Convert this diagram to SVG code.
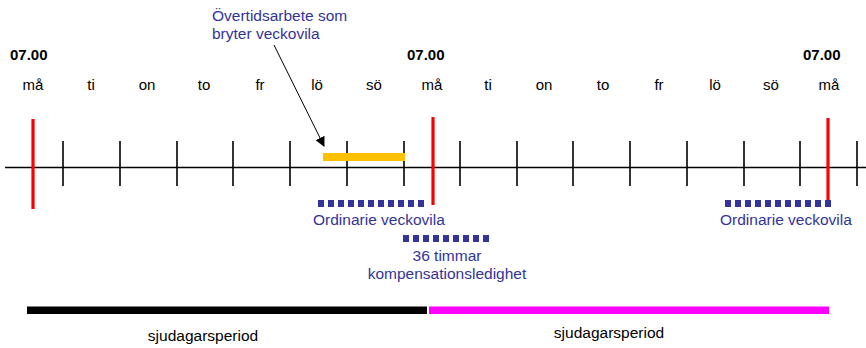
<svg xmlns="http://www.w3.org/2000/svg" width="866" height="348" viewBox="0 0 866 348">
<style>
  text { font-family: "Liberation Sans", Arial, sans-serif; }
  .day { font-size: 15px; fill: #000; text-anchor: middle; }
  .time { font-size: 15px; font-weight: bold; fill: #000; }
  .blue { font-size: 15.5px; fill: #333399; }
  .per { font-size: 15.5px; fill: #000; text-anchor: middle; }
  .tick { stroke: #000; stroke-width: 1.6; }
  .red { stroke: #ff0000; stroke-width: 3.2; }
  .dots { stroke: #333399; stroke-width: 7; stroke-dasharray: 6 4; fill: none; }
</style>
<defs>
  <marker id="ah" markerWidth="10" markerHeight="10" refX="9" refY="5" orient="auto" markerUnits="userSpaceOnUse">
    <path d="M0,0 L10,5 L0,10 z" fill="#000"/>
  </marker>
</defs>
<rect width="866" height="348" fill="#fff"/>

<g id="times">
  <text class="time" x="10" y="60">07.00</text>
  <text class="time" x="407" y="60">07.00</text>
  <text class="time" x="803" y="60">07.00</text>
</g>

<g id="days">
  <text class="day" x="33" y="90">må</text>
  <text class="day" x="91" y="90">ti</text>
  <text class="day" x="147" y="90">on</text>
  <text class="day" x="204" y="90">to</text>
  <text class="day" x="260" y="90">fr</text>
  <text class="day" x="317" y="90">lö</text>
  <text class="day" x="374" y="90">sö</text>
  <text class="day" x="432" y="90">må</text>
  <text class="day" x="488" y="90">ti</text>
  <text class="day" x="544" y="90">on</text>
  <text class="day" x="603" y="90">to</text>
  <text class="day" x="659" y="90">fr</text>
  <text class="day" x="715" y="90">lö</text>
  <text class="day" x="771" y="90">sö</text>
  <text class="day" x="829" y="90">må</text>
</g>

<g id="timeline">
  <line x1="5" y1="167.5" x2="866" y2="167.5" stroke="#000" stroke-width="1.6"/>
  <line class="tick" x1="63" y1="141" x2="63" y2="186"/>
  <line class="tick" x1="120" y1="141" x2="120" y2="186"/>
  <line class="tick" x1="177" y1="141" x2="177" y2="186"/>
  <line class="tick" x1="233" y1="141" x2="233" y2="186" stroke-width="2"/>
  <line class="tick" x1="290" y1="141" x2="290" y2="186" stroke-width="2"/>
  <line class="tick" x1="347" y1="141" x2="347" y2="186"/>
  <line class="tick" x1="404" y1="141" x2="404" y2="186"/>
  <line class="tick" x1="460" y1="141" x2="460" y2="186"/>
  <line class="tick" x1="517" y1="141" x2="517" y2="186"/>
  <line class="tick" x1="573" y1="141" x2="573" y2="186"/>
  <line class="tick" x1="630" y1="141" x2="630" y2="186"/>
  <line class="tick" x1="687" y1="141" x2="687" y2="186"/>
  <line class="tick" x1="744" y1="141" x2="744" y2="186"/>
  <line class="tick" x1="800" y1="141" x2="800" y2="186" stroke-width="2"/>
  <line class="tick" x1="857" y1="141" x2="857" y2="186"/>
  <line class="red" x1="33" y1="119" x2="33" y2="209"/>
  <line class="red" x1="433" y1="117" x2="433" y2="205"/>
  <line class="red" x1="828" y1="118" x2="828" y2="207"/>
</g>

<g id="overtime">
  <rect x="323" y="153" width="82" height="8" fill="#ffc000"/>
  <text class="blue" x="212" y="21">Övertidsarbete som</text>
  <text class="blue" x="212" y="38.5">bryter veckovila</text>
</g>

<g id="connectors">
  <line x1="274" y1="45" x2="324" y2="146" stroke="#000" stroke-width="1" marker-end="url(#ah)"/>
</g>

<g id="veckovila1">
  <line class="dots" x1="318" y1="203.5" x2="424" y2="203.5"/>
  <text class="blue" x="313" y="225">Ordinarie veckovila</text>
</g>

<g id="veckovila2">
  <line class="dots" x1="725" y1="203.5" x2="831" y2="203.5"/>
  <text class="blue" x="720" y="225">Ordinarie veckovila</text>
</g>

<g id="kompensation">
  <line class="dots" x1="403" y1="238.5" x2="492" y2="238.5" stroke-dasharray="5 3.4" stroke-width="6.5"/>
  <text class="blue" x="447" y="261" text-anchor="middle">36 timmar</text>
  <text class="blue" x="447" y="279" text-anchor="middle">kompensationsledighet</text>
</g>

<g id="period1">
  <rect x="27" y="306.5" width="400" height="7.5" fill="#000"/>
  <text class="per" x="203" y="341">sjudagarsperiod</text>
</g>

<g id="period2">
  <rect x="429" y="306.5" width="400" height="7.5" fill="#ff00ff"/>
  <text class="per" x="609" y="338">sjudagarsperiod</text>
</g>
</svg>
